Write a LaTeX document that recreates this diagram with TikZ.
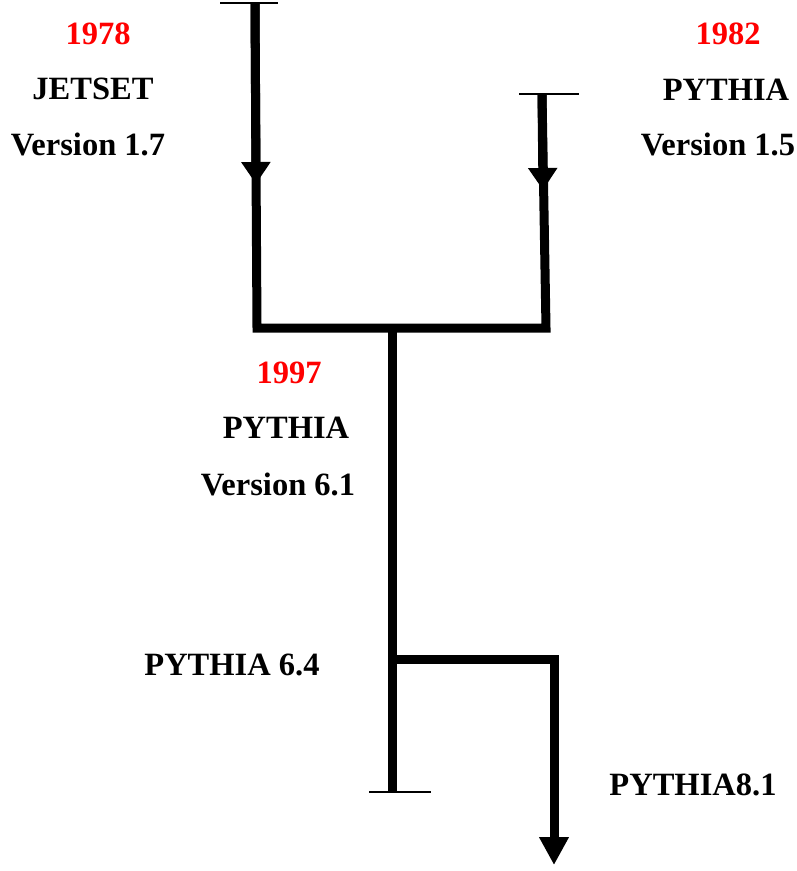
\documentclass[tikz,border=0pt]{standalone}
\usepackage{fontspec}
\setmainfont{Liberation Serif}
\usetikzlibrary{arrows.meta}

\begin{document}
\begin{tikzpicture}[x=1pt, y=-1pt,
    trunk/.style={line width=9pt, line join=miter},
    endbar/.style={line width=2pt},
    midtip/.style={-{Triangle[width=28pt, length=22pt]}},
    endtip/.style={-{Triangle[width=28pt, length=28pt]}},
    lbl/.style={anchor=base, inner sep=0pt, font=\fontsize{32.5}{38}\selectfont\bfseries},
    year/.style={lbl, text=red}]

    \useasboundingbox (0,0) rectangle (797,871);

    % --- Puntos del arbol de versiones ---
    \coordinate (topL) at (255,3);     % inicio JETSET
    \coordinate (arrL) at (256,184);
    \coordinate (topR) at (542,94);    % inicio PYTHIA
    \coordinate (arrR) at (543,190);
    \coordinate (jL)   at (257,328);
    \coordinate (jC)   at (392,328);
    \coordinate (jR)   at (546,328);
    \coordinate (br)   at (392,659);   % rama hacia 8.1
    \coordinate (brR)  at (554,659);
    \coordinate (endC) at (392,792);
    \coordinate (endR) at (554,865);

    % 1. Ramas superiores y union
    \draw[trunk] (topL) -- (jL) -- (jR) -- (topR);
    \draw[trunk, midtip] (topL) -- (arrL);
    \draw[trunk, midtip] (topR) -- (arrR);
    \draw[endbar] ([xshift=-35pt]topL) -- ([xshift=23pt]topL);
    \draw[endbar] ([xshift=-23pt]topR) -- ([xshift=37pt]topR);

    % 2. Tronco central y rama de PYTHIA 8
    \draw[trunk] (jC) -- (endC);
    \draw[endbar] ([xshift=-23pt]endC) -- ([xshift=39pt]endC);
    \draw[trunk, line cap=butt, endtip] (br) -- (brR) -- (endR);

    % 3. Etiquetas
    \node[year] (y1978)  at (98,44)   {1978};
    \node[lbl]  (jetset) at (93,99)   {JETSET};
    \node[lbl]  (v17)    at (88,155)  {Version 1.7};

    \node[year] (y1982)  at (728,44)  {1982};
    \node[lbl]  (pyA)    at (726,100) {PYTHIA};
    \node[lbl]  (v15)    at (718,155) {Version 1.5};

    \node[year] (y1997)  at (289,383) {1997};
    \node[lbl]  (pyB)    at (286,438) {PYTHIA};
    \node[lbl]  (v61)    at (278,495) {Version 6.1};

    \node[lbl]  (py64)   at (232,675) {PYTHIA 6.4};
    \node[lbl]  (py81)   at (693,795) {PYTHIA8.1};

\end{tikzpicture}
\end{document}
